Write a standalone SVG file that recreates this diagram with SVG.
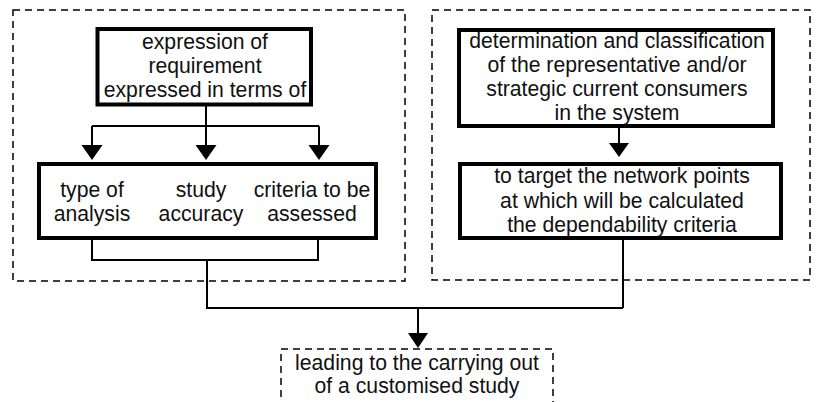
<svg xmlns="http://www.w3.org/2000/svg" width="819" height="402" viewBox="0 0 819 402">
  <style>
    .frame { fill: none; stroke: #000; stroke-width: 1.5; stroke-dasharray: 7 5; }
    .box { fill: #fff; stroke: #000; stroke-width: 4; }
    .wire { fill: none; stroke: #000; stroke-width: 2; }
    .head { fill: #000; stroke: none; }
    text { font-family: "Liberation Sans", Arial, sans-serif; font-size: 21.2px; fill: #111; text-anchor: middle; }
  </style>
  <rect width="819" height="402" fill="#fff"/>

  <!-- dashed grouping frames -->
  <g id="frame-left"><rect class="frame" x="13" y="10" width="392" height="271"/></g>
  <g id="frame-right"><rect class="frame" x="432" y="10" width="378" height="270"/></g>

  <!-- connectors -->
  <g id="connectors">
    <path class="wire" d="M206 106 V145 M92 126 H319 M92 126 V145 M319 126 V145"/>
    <polygon class="head" points="81.5,145 102.5,145 92,160"/>
    <polygon class="head" points="195.5,145 216.5,145 206,160"/>
    <polygon class="head" points="308.5,145 329.5,145 319,160"/>
    <path class="wire" d="M92 239 V260 H318 V239 M207 260 V308 H623 M623 240 V308 M418 308 V333"/>
    <polygon class="head" points="408,333 428,333 418,348"/>
    <path class="wire" d="M619 128 V143"/>
    <polygon class="head" points="609,143 629,143 619,157"/>
  </g>

  <g id="requirement">
    <rect class="box" x="97.5" y="29" width="213.5" height="75.5"/>
    <text x="205" y="48.5">expression of</text>
    <text x="205" y="72.5">requirement</text>
    <text x="205" y="96.5">expressed in terms of</text>
  </g>

  <g id="aspects">
    <rect class="box" x="39" y="164" width="337" height="74"/>
    <text x="92" y="196.5">type of</text>
    <text x="92" y="221">analysis</text>
    <text x="201" y="196.5">study</text>
    <text x="201" y="221">accuracy</text>
    <text x="312" y="196.5">criteria to be</text>
    <text x="312" y="221">assessed</text>
  </g>

  <g id="consumers">
    <rect class="box" x="459" y="30" width="314" height="96"/>
    <text x="617" y="47.5">determination and classification</text>
    <text x="617" y="71.5">of the representative and/or</text>
    <text x="617" y="95.5">strategic current consumers</text>
    <text x="617" y="119.5">in the system</text>
  </g>

  <g id="network-points">
    <rect class="box" x="460" y="164" width="321" height="74"/>
    <text x="622" y="183">to target the network points</text>
    <text x="622" y="207.5">at which will be calculated</text>
    <text x="622" y="232">the dependability criteria</text>
  </g>

  <g id="study">
    <rect class="frame" x="281" y="349" width="272" height="70"/>
    <text x="417" y="370">leading to the carrying out</text>
    <text x="417" y="393">of a customised study</text>
  </g>
</svg>
